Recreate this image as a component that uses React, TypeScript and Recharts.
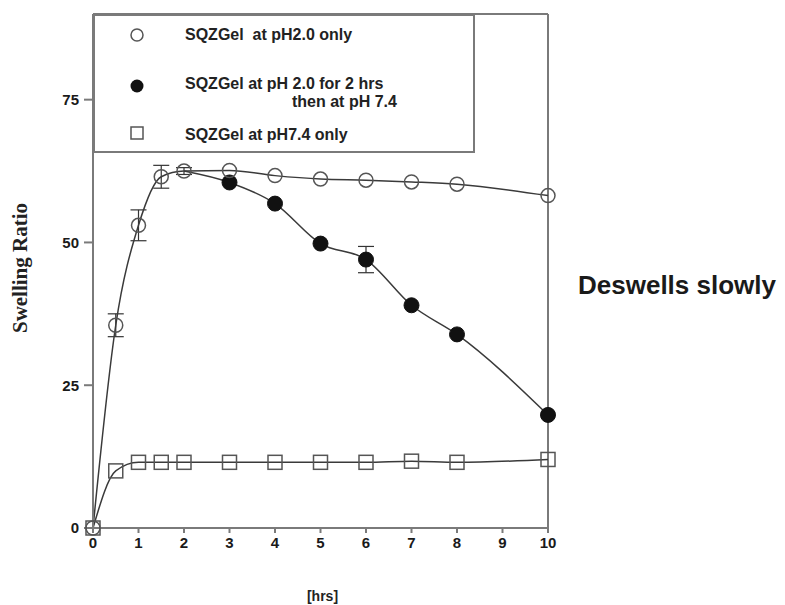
import { LineChart, Line, XAxis, YAxis, ErrorBar, ReferenceLine, Legend, Label } from "recharts";

// SQZGel at pH 2.0 only
const acidHours = [0, 0.5, 1, 1.5, 2, 3, 4, 5, 6, 7, 8, 10];
const acidRatio = [0, 35.5, 53, 61.5, 62.5, 62.6, 61.7, 61.1, 60.9, 60.6, 60.2, 58.2];
const acidErr = [null, 2, 2.7, 2, 0.6, null, null, null, null, null, null, null];

// SQZGel at pH 2.0 for 2 hrs then at pH 7.4 (starts from the shared 2 hr point)
const switchHours = [2, 3, 4, 5, 6, 7, 8, 10];
const switchRatio = [62.5, 60.5, 56.8, 49.8, 47.0, 39.0, 33.9, 19.8];
const switchErr = [null, null, null, null, 2.3, null, null, null];

// SQZGel at pH 7.4 only
const neutralHours = [0, 0.5, 1, 1.5, 2, 3, 4, 5, 6, 7, 8, 10];
const neutralRatio = [0, 10, 11.5, 11.5, 11.5, 11.5, 11.5, 11.5, 11.5, 11.7, 11.5, 12];

const xTicks = [0, 1, 2, 3, 4, 5, 6, 7, 8, 9, 10];
const yTicks = [0, 25, 50, 75];

const acidData = acidHours.map((h, i) => ({ h, v: acidRatio[i], err: acidErr[i] }));
const switchData = switchHours.map((h, i) => ({ h, v: switchRatio[i], err: switchErr[i] }));
const neutralData = neutralHours.map((h, i) => ({ h, v: neutralRatio[i] }));

const INK = "#3a3a3a";
const FRAME = "#7a7a7a";
const SANS = "'Liberation Sans', Arial, sans-serif";

const OpenDot = (p: any) => (
  <circle key={`o${p.index}`} cx={p.cx} cy={p.cy} r={7} fill="none" stroke="#555" strokeWidth={1.5} />
);
const FilledDot = (p: any) =>
  p.index === 0 ? <g key={`f${p.index}`} /> : <circle key={`f${p.index}`} cx={p.cx} cy={p.cy} r={7.5} fill="#111" stroke="#111" />;
const SquareDot = (p: any) => (
  <rect key={`s${p.index}`} x={p.cx - 7} y={p.cy - 7} width={14} height={14} fill="none" stroke="#555" strokeWidth={1.5} />
);

const legendText = { position: "absolute" as const, fontFamily: SANS, fontWeight: 700, fontSize: 16, color: "#222", whiteSpace: "pre" as const, lineHeight: "16px" };

const LegendBox = () => (
  <div style={{ position: "relative", width: 382, height: 139, border: `2px solid ${FRAME}`, boxSizing: "border-box", background: "#fff" }}>
    <svg width={80} height={139} style={{ position: "absolute", left: -2, top: -2 }}>
      <circle cx={44} cy={21} r={6} fill="none" stroke="#555" strokeWidth={1.5} />
      <circle cx={44} cy={72} r={6.5} fill="#111" />
      <rect x={38} y={113} width={12} height={12} fill="none" stroke="#555" strokeWidth={1.5} />
    </svg>
    <div style={{ ...legendText, left: 90, top: 11 }}>SQZGel  at pH2.0 only</div>
    <div style={{ ...legendText, left: 90, top: 60 }}>SQZGel at pH 2.0 for 2 hrs</div>
    <div style={{ ...legendText, left: 197, top: 78 }}>then at pH 7.4</div>
    <div style={{ ...legendText, left: 90, top: 111 }}>SQZGel at pH7.4 only</div>
  </div>
);

export default function App() {
  return (
    <div style={{ position: "absolute", left: 0, top: 0, width: 785, height: 605, background: "#fff" }}>
      <LineChart width={785} height={605} margin={{ top: 14, right: 237, bottom: 47, left: 0 }}>
        <XAxis
          dataKey="h"
          type="number"
          domain={[0, 10]}
          ticks={xTicks}
          allowDuplicatedCategory={false}
          height={30}
          stroke={FRAME}
          strokeWidth={2}
          tickSize={5}
          tickMargin={4}
          tick={{ fill: "#1a1a1a", fontFamily: SANS, fontWeight: 700, fontSize: 15 }}
        >
          <Label
            content={({ viewBox }: any) => (
              <text x={viewBox.x + viewBox.width / 2 + 2} y={601} textAnchor="middle" fontFamily={SANS} fontWeight={700} fontSize={14} fill="#222">
                [hrs]
              </text>
            )}
          />
        </XAxis>
        <YAxis
          dataKey="v"
          type="number"
          domain={[0, 90]}
          ticks={yTicks}
          width={93}
          stroke={FRAME}
          strokeWidth={2}
          tickSize={9}
          tickMargin={5}
          tick={{ fill: "#1a1a1a", fontFamily: SANS, fontWeight: 700, fontSize: 15 }}
        >
          <Label
            content={() => (
              <text x={27} y={268} transform="rotate(-90 27 268)" textAnchor="middle" fontFamily="'Liberation Serif', 'Times New Roman', serif" fontWeight={700} fontSize={21} fill="#222">
                Swelling Ratio
              </text>
            )}
          />
        </YAxis>
        <ReferenceLine y={90} stroke={FRAME} strokeWidth={2} />
        <ReferenceLine x={10} stroke={FRAME} strokeWidth={2} />
        <Legend
          layout="horizontal"
          verticalAlign="middle"
          align="center"
          content={() => <LegendBox />}
          wrapperStyle={{ position: "absolute", left: 93, top: 14, width: 382, height: 139 }}
        />
        <Line data={neutralData} dataKey="v" type="monotone" stroke={INK} strokeWidth={1.5} dot={SquareDot} isAnimationActive={false} />
        <Line data={switchData} dataKey="v" type="monotone" stroke={INK} strokeWidth={1.5} dot={FilledDot} isAnimationActive={false}>
          <ErrorBar dataKey="err" direction="y" width={8} stroke="#333" strokeWidth={1.2} />
        </Line>
        <Line data={acidData} dataKey="v" type="monotone" stroke={INK} strokeWidth={1.5} dot={OpenDot} isAnimationActive={false}>
          <ErrorBar dataKey="err" direction="y" width={8} stroke="#333" strokeWidth={1.2} />
        </Line>
      </LineChart>
      <div style={{ position: "absolute", left: 578, top: 269, fontFamily: SANS, fontWeight: 700, fontSize: 26, color: "#1a1a1a", whiteSpace: "nowrap", lineHeight: "32px" }}>
        Deswells slowly
      </div>
    </div>
  );
}
